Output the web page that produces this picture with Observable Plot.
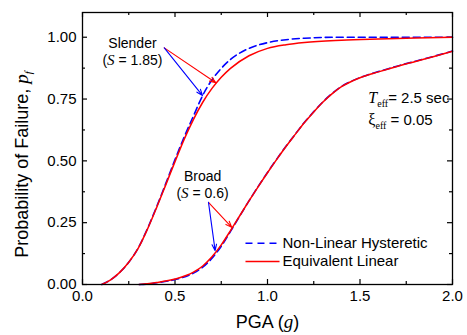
<!DOCTYPE html>
<html>
<head>
<meta charset="utf-8">
<script src="https://cdn.jsdelivr.net/npm/d3@7"></script>
<script src="https://cdn.jsdelivr.net/npm/@observablehq/plot@0.6"></script>
<style>
  html, body { margin: 0; padding: 0; background: #fff; }
  svg { font-family: "Liberation Sans", Arial, sans-serif; }
</style>
</head>
<body>
<div id="chart"></div>
<script>
// ---- Data ----
const slenderRedX = [0.104, 0.15, 0.2, 0.25, 0.3, 0.35, 0.4, 0.45, 0.5, 0.55, 0.6, 0.65, 0.7, 0.75, 0.8, 0.9, 1.0, 1.1, 1.2, 1.4, 1.6, 1.8, 2.0];
const slenderRedY = [0, 0.018, 0.048, 0.09, 0.145, 0.222, 0.31, 0.403, 0.497, 0.588, 0.668, 0.737, 0.793, 0.838, 0.874, 0.925, 0.955, 0.97, 0.979, 0.988, 0.993, 0.997, 1.0];
const slenderBlueX = [0.104, 0.15, 0.2, 0.25, 0.3, 0.35, 0.4, 0.45, 0.5, 0.55, 0.6, 0.65, 0.7, 0.75, 0.8, 0.9, 1.0, 1.1, 1.2, 1.4, 1.6, 2.0];
const slenderBlueY = [0, 0.018, 0.048, 0.09, 0.146, 0.224, 0.313, 0.408, 0.505, 0.597, 0.682, 0.765, 0.828, 0.874, 0.91, 0.955, 0.978, 0.99, 0.996, 1.0, 1.0, 1.0];
const broadRedX = [0.306, 0.35, 0.4, 0.5, 0.6, 0.65, 0.7, 0.75, 0.8, 0.85, 0.9, 0.95, 1.0, 1.05, 1.1, 1.15, 1.2, 1.25, 1.3, 1.35, 1.4, 1.45, 1.5, 1.6, 1.7, 1.8, 1.9, 2.0];
const broadRedY = [0, 0.003, 0.008, 0.022, 0.05, 0.075, 0.112, 0.16, 0.218, 0.278, 0.338, 0.396, 0.452, 0.506, 0.558, 0.607, 0.655, 0.698, 0.738, 0.772, 0.8, 0.82, 0.836, 0.86, 0.882, 0.902, 0.922, 0.943];
const broadBlueX = [0.306, 0.35, 0.4, 0.5, 0.6, 0.65, 0.7, 0.75, 0.8, 0.85, 0.9, 0.95, 1.0, 1.05, 1.1, 1.15, 1.2, 1.25, 1.3, 1.35, 1.4, 1.45, 1.5, 1.6, 1.7, 1.8, 1.9, 2.0];
const broadBlueY = [0, 0.002, 0.007, 0.02, 0.046, 0.07, 0.106, 0.155, 0.215, 0.277, 0.338, 0.397, 0.453, 0.507, 0.559, 0.608, 0.656, 0.699, 0.739, 0.773, 0.801, 0.821, 0.837, 0.861, 0.883, 0.903, 0.923, 0.944];

const xMajor = [0, 0.5, 1.0, 1.5, 2.0];
const xMinor = [0.25, 0.75, 1.25, 1.75];
const yMajor = [0, 0.25, 0.5, 0.75, 1.0];
const yMinor = [0.125, 0.375, 0.625, 0.875];

// annotation anchors in data units
const arrows = [
  {x1: 0.442, y1: 0.957, x2: 0.721, y2: 0.816, c: "#ff0000"},
  {x1: 0.442, y1: 0.957, x2: 0.649, y2: 0.764, c: "#0000ff"},
  {x1: 0.681, y1: 0.332, x2: 0.807, y2: 0.231, c: "#ff0000"},
  {x1: 0.681, y1: 0.332, x2: 0.717, y2: 0.137, c: "#0000ff"}
];
const labels = [
  {x: 0.27, y: 0.975, t: "Slender"},
  {x: 0.27, y: 0.905, t: "(S = 1.85)"},
  {x: 0.649, y: 0.438, t: "Broad"},
  {x: 0.649, y: 0.368, t: "(S = 0.6)"}
];
const params = [
  {x: 1.545, y: 0.755, t: "Teff= 2.5 sec"},
  {x: 1.545, y: 0.665, t: "xieff = 0.05"}
];
const legendNL = [{x1: 0.881, x2: 1.065, y: 0.167, t: "Non-Linear Hysteretic"}];
const legendEL = [{x1: 0.881, x2: 1.065, y: 0.093, t: "Equivalent Linear"}];

const toPts = (xs, ys) => xs.map((x, i) => ({x, y: ys[i]}));

const W = 467, H = 335;
const mL = 82, mR = 15, mT = 12, mB = 51;
const fw = W - mL - mR, fh = H - mT - mB;

const chart = Plot.plot({
  width: W, height: H,
  marginLeft: mL, marginRight: mR, marginTop: mT, marginBottom: mB,
  x: {domain: [0, 2.0]},
  y: {domain: [0, 1.1]},
  style: {fontFamily: "Liberation Sans, Arial, sans-serif", fontSize: "15px", color: "black"},
  marks: [
    Plot.axisX(xMajor, {tickSize: 0, tickPadding: 6, tickFormat: d3.format(".1f"), fontSize: 15, label: null}),
    Plot.axisY(yMajor, {tickSize: 0, tickPadding: 6, tickFormat: d3.format(".2f"), fontSize: 15, label: null}),
    // inward ticks
    Plot.tickX(xMajor, {x: d => d, insetTop: fh - 5, stroke: "black", strokeWidth: 1.2}),
    Plot.tickX(xMinor, {x: d => d, insetTop: fh - 3, stroke: "black", strokeWidth: 1.2}),
    Plot.tickX(xMajor, {x: d => d, insetBottom: fh - 5, stroke: "black", strokeWidth: 1.2}),
    Plot.tickX(xMinor, {x: d => d, insetBottom: fh - 3, stroke: "black", strokeWidth: 1.2}),
    Plot.tickY(yMajor, {y: d => d, insetRight: fw - 5, stroke: "black", strokeWidth: 1.2}),
    Plot.tickY(yMinor, {y: d => d, insetRight: fw - 3, stroke: "black", strokeWidth: 1.2}),
    Plot.tickY(yMajor, {y: d => d, insetLeft: fw - 5, stroke: "black", strokeWidth: 1.2}),
    Plot.tickY(yMinor, {y: d => d, insetLeft: fw - 3, stroke: "black", strokeWidth: 1.2}),
    // curves
    Plot.line(toPts(slenderBlueX, slenderBlueY), {x: "x", y: "y", stroke: "#0000ff", strokeWidth: 1.6, strokeDasharray: "7,4", curve: "monotone-x"}),
    Plot.line(toPts(broadBlueX, broadBlueY), {x: "x", y: "y", stroke: "#0000ff", strokeWidth: 1.6, strokeDasharray: "7,4", curve: "monotone-x"}),
    Plot.line(toPts(slenderRedX, slenderRedY), {x: "x", y: "y", stroke: "#ff0000", strokeWidth: 1.5, curve: "monotone-x"}),
    Plot.line(toPts(broadRedX, broadRedY), {x: "x", y: "y", stroke: "#ff0000", strokeWidth: 1.5, curve: "monotone-x"}),
    // annotations
    Plot.arrow(arrows, {x1: "x1", y1: "y1", x2: "x2", y2: "y2", stroke: "c", strokeWidth: 1.1, headLength: 9, headAngle: 40}),
    Plot.text(labels, {x: "x", y: "y", text: "t", fontSize: 14, fill: "black"}),
    Plot.text(params, {x: "x", y: "y", text: "t", fontSize: 15, textAnchor: "start", fill: "black"}),
    // legend
    Plot.link(legendNL, {x1: "x1", x2: "x2", y1: "y", y2: "y", stroke: "#0000ff", strokeWidth: 1.6, strokeDasharray: "7,5"}),
    Plot.link(legendEL, {x1: "x1", x2: "x2", y1: "y", y2: "y", stroke: "#ff0000", strokeWidth: 1.6}),
    Plot.text(legendNL.concat(legendEL), {x: "x2", y: "y", text: "t", dx: 3, textAnchor: "start", fontSize: 15, fill: "black"}),
    // axis titles
    Plot.text(["YLABEL"], {frameAnchor: "left", textAnchor: "middle", dx: -60, dy: 16, rotate: -90, fontSize: 18, fill: "black"}),
    Plot.text(["XLABEL"], {frameAnchor: "bottom", textAnchor: "middle", dy: 43, fontSize: 18, fill: "black"}),
    Plot.frame({stroke: "black", strokeWidth: 1.3})
  ]
});

// rich text (italic symbols, subscripts)
const serif = "Liberation Serif, Times New Roman, serif";
d3.select(chart).selectAll("text").each(function() {
  const el = d3.select(this);
  const t = this.textContent;
  if (t === "(S = 1.85)" || t === "(S = 0.6)") {
    const v = t === "(S = 1.85)" ? "1.85" : "0.6";
    el.text(null);
    el.append("tspan").text("(");
    el.append("tspan").attr("font-family", serif).attr("font-style", "italic").attr("font-size", 15).text("S");
    el.append("tspan").text(" = " + v + ")");
  } else if (t === "Teff= 2.5 sec") {
    el.text(null);
    el.append("tspan").attr("font-family", serif).attr("font-style", "italic").attr("font-size", 16).text("T");
    el.append("tspan").attr("font-family", serif).attr("font-size", 10).attr("dy", 4).text("eff");
    el.append("tspan").attr("dy", -4).text("= 2.5 sec");
  } else if (t === "xieff = 0.05") {
    el.text(null);
    el.append("tspan").attr("font-family", serif).attr("font-size", 16).text("ξ");
    el.append("tspan").attr("font-family", serif).attr("font-size", 10).attr("dy", 4).text("eff");
    el.append("tspan").attr("dy", -4).text(" = 0.05");
  } else if (t === "YLABEL") {
    el.text(null);
    el.append("tspan").text("Probability of Failure, ");
    el.append("tspan").attr("font-family", serif).attr("font-style", "italic").attr("font-size", 19).text("p");
    el.append("tspan").attr("font-family", serif).attr("font-style", "italic").attr("font-size", 11).attr("dy", 4).text("f");
  } else if (t === "XLABEL") {
    el.text(null);
    el.append("tspan").text("PGA (");
    el.append("tspan").attr("font-family", serif).attr("font-style", "italic").attr("font-size", 19).text("g");
    el.append("tspan").text(")");
  }
});

document.getElementById("chart").appendChild(chart);
</script>
</body>
</html>
